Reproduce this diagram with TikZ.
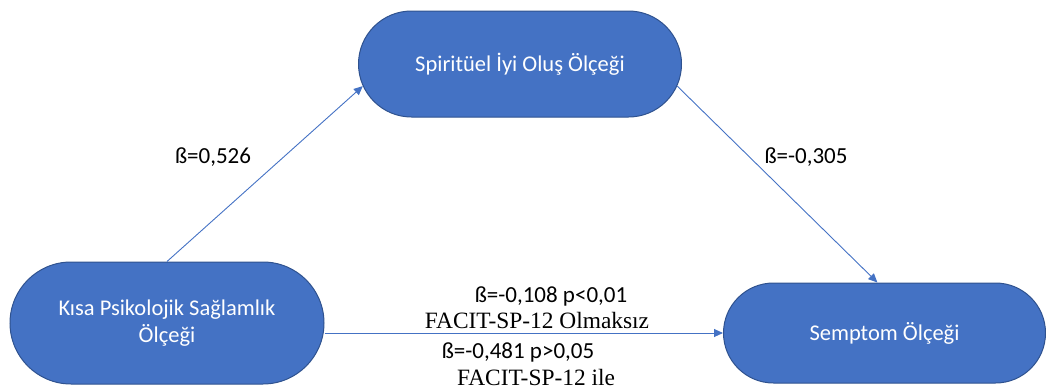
\documentclass[tikz,border=0pt]{standalone}
\usepackage{fontspec}
\setmainfont{Carlito}
\newfontfamily\serifff{Liberation Serif}
\usetikzlibrary{shapes.misc,arrows.meta}
\definecolor{nodefill}{HTML}{4472C4}
\definecolor{nodeedge}{HTML}{2F528F}
\definecolor{arrowc}{HTML}{4472C4}
\tikzset{
  stadium/.style={rounded rectangle, fill=nodefill, draw=nodeedge, line width=1pt,
    text=white, font=\fontsize{22.5}{27}\selectfont, align=center, inner sep=0pt},
  conn/.style={draw=arrowc, line width=0.9pt, -{Triangle[length=9pt,width=8pt]}},
  lbl/.style={font=\fontsize{23}{27}\selectfont, text=black, inner sep=0pt},
  slbl/.style={font=\serifff\fontsize{23.4}{27}\selectfont, text=black, inner sep=0pt},
}
\begin{document}
\begin{tikzpicture}[x=1pt,y=-1pt]
\useasboundingbox (0,0) rectangle (1046,388);
\node[stadium, minimum width=323pt, minimum height=106pt] (top) at (520,64) {Spiritüel İyi Oluş Ölçeği};
\node[stadium, minimum width=314pt, minimum height=122pt] (left) at (167,323) {Kısa Psikolojik Sağlamlık\\Ölçeği};
\node[stadium, minimum width=322pt, minimum height=100pt] (right) at (884.5,333) {Semptom Ölçeği};
\draw[conn] (left.north) -- (top.188);
\draw[conn] (top.352) -- (right.98);
\draw[conn] (left.east |- right.west) -- (right.west);
\node[lbl] (b1) at (213,157) {ß=0,526};
\node[lbl] (b2) at (806,157) {ß=-0,305};
\node[lbl] (m1) at (551,296) {ß=-0,108 p<0,01};
\node[slbl] (m2) at (537,320) {FACIT-SP-12 Olmaksız};
\node[lbl] (m3) at (518,352) {ß=-0,481 p>0,05};
\node[slbl] (m4) at (536,377) {FACIT-SP-12 ile};
\end{tikzpicture}
\end{document}
